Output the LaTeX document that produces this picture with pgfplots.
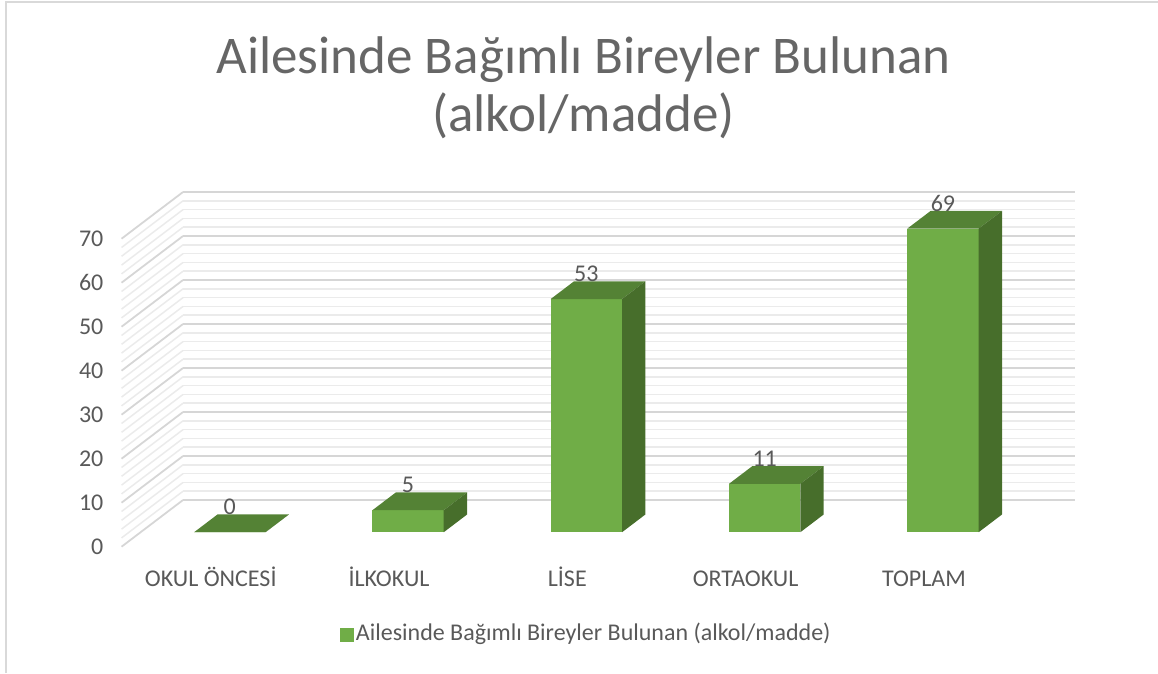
\documentclass[border=0pt]{standalone}
\usepackage{fontspec}
\setmainfont{Carlito}
\usepackage{pgfplots}
\pgfplotsset{compat=1.18}
\definecolor{barfront}{HTML}{70AD47}
\definecolor{bartop}{HTML}{548235}
\definecolor{barside}{HTML}{476E2B}
\definecolor{txt}{HTML}{595959}
\definecolor{ttl}{HTML}{666666}
\definecolor{gmaj}{HTML}{D6D6D6}
\definecolor{gmin}{HTML}{EBEBEB}
\definecolor{frame}{HTML}{D9D9D9}

\newcommand\cube[2]{%
 \pgfmathsetmacro\xl{#1-0.2}%
 \pgfmathsetmacro\xr{#1+0.2}%
 \addplot3[fill=barfront,draw=none,forget plot] coordinates {(\xl,0.31,0) (\xr,0.31,0) (\xr,0.31,#2) (\xl,0.31,#2)} -- cycle;
 \addplot3[fill=bartop,draw=none,forget plot] coordinates {(\xl,0.31,#2) (\xr,0.31,#2) (\xr,0.69,#2) (\xl,0.69,#2)} -- cycle;
 \addplot3[fill=barside,draw=none,forget plot] coordinates {(\xr,0.31,0) (\xr,0.69,0) (\xr,0.69,#2) (\xr,0.31,#2)} -- cycle;
}

\begin{document}
\begin{tikzpicture}
\useasboundingbox (0pt,0pt) rectangle (1158pt,673pt);
\draw[frame, line width=2pt] (6pt,0pt) -- (6pt,671pt) -- (1158pt,671pt);
\node[anchor=base, text=ttl, font=\fontsize{53}{60}\selectfont, inner sep=0pt] at (583.5pt,599.7pt) {Ailesinde Bağımlı Bireyler Bulunan};
\node[anchor=base, text=ttl, font=\fontsize{53}{60}\selectfont, inner sep=0pt] at (583.5pt,541.3pt) {(alkol/madde)};
\begin{axis}[
 at={(210.7pt,126.3pt)}, anchor=origin,
 x={(178.3pt,0pt)}, y={(61.5pt,46.7pt)}, z={(0pt,4.4pt)},
 xmin=-0.5, xmax=4.5, ymin=0, ymax=1, zmin=0, zmax=70,
 xtick={0,1,2,3,4},
 xticklabels={OKUL ÖNCESİ,İLKOKUL,LİSE,ORTAOKUL,TOPLAM},
 ytick=\empty,
 ztick={0,10,...,70}, minor z tick num=4,
 zmajorgrids, zminorgrids,
 major grid style={gmaj, line width=1.8pt},
 minor grid style={gmin, line width=1.5pt},
 axis line style={draw=none}, tick style={draw=none},
 clip=false,
 /pgf/number format/assume math mode=true,
 tick label style={font=\fontsize{24}{29}\selectfont, text=txt, inner sep=0pt},
 x tick label style={anchor=base, yshift=-39.3pt},
 z tick label style={anchor=east, xshift=-18pt},
 legend style={at={(axis cs:2.108,0,-19.6)}, anchor=center, draw=none, fill=none,
   font=\fontsize{24}{29}\selectfont, text=txt,
   nodes={inner sep=2.5pt},
   /tikz/every even column/.append style={column sep=0pt}},
]
\cube{0}{0}
\cube{1}{5}
\cube{2}{53}
\cube{3}{11}
\cube{4}{69}
\addplot3[draw=none, forget plot, nodes near coords, point meta=explicit symbolic,
  nodes near coords style={anchor=base, inner sep=0pt, yshift=17.5pt,
  font=\fontsize{24}{29}\selectfont, text=txt}]
  coordinates {(0,0.31,0)[0] (1,0.31,5)[5] (2,0.31,53)[53] (3,0.31,11)[11] (4,0.31,69)[69]};
\addlegendimage{legend image code/.code={\fill[barfront] (0pt,-8pt) rectangle (13pt,5pt);}}
\addlegendentry{Ailesinde Bağımlı Bireyler Bulunan (alkol/madde)}
\end{axis}
\end{tikzpicture}
\end{document}
